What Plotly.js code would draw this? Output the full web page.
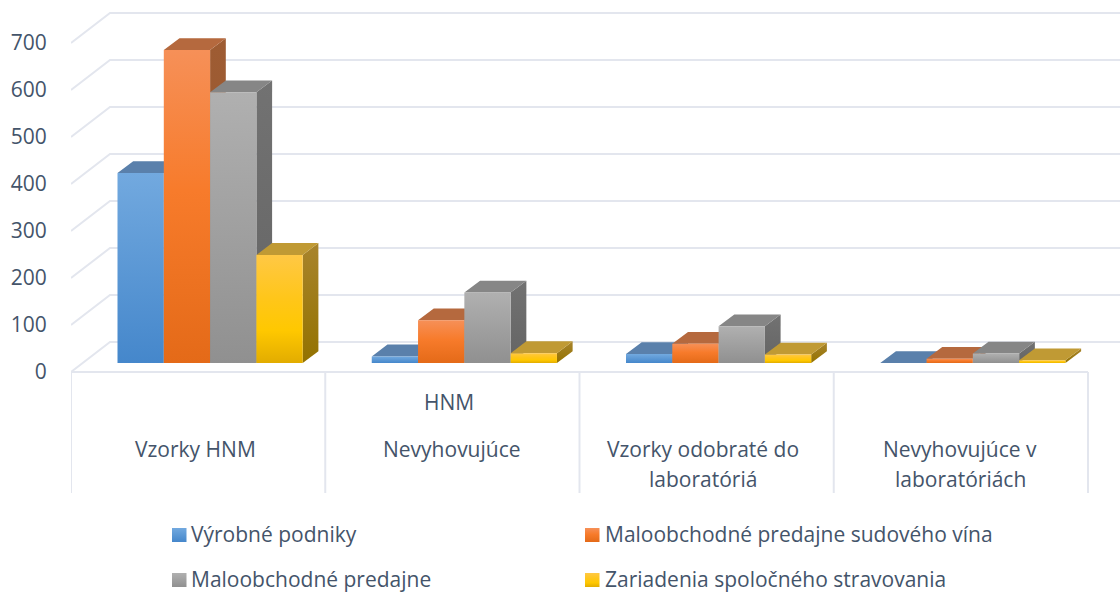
<!DOCTYPE html>
<html>
<head>
<meta charset="utf-8">
<script src="https://cdn.plot.ly/plotly-3.0.1.min.js"></script>
<style>html,body{margin:0;padding:0;background:#fff}#c{width:1120px;height:592px}</style>
</head>
<body>
<div id="c"></div>
<script>
var categories = ["Vzorky HNM", "Nevyhovujúce", "Vzorky odobraté do<br>laboratóriá", "Nevyhovujúce v<br>laboratóriách"];
var categoryPrefix = ["", "HNM", "", ""];
var seriesNames = ["Výrobné podniky", "Maloobchodné predajne sudového vína", "Maloobchodné predajne", "Zariadenia spoločného stravovania"];
var vyrobnePodniky = [404, 14, 19, 0];
var sudoveVino = [666, 91, 41, 9];
var predajne = [576, 150, 78, 20];
var stravovanie = [230, 21, 18, 6];
var tickValues = [0, 100, 200, 300, 400, 500, 600, 700];

var W = 1120, H = 592;
var X0 = 71, CAT = 254.25, Y0 = 372, PY = 0.47;
function xd(px) { return (px - X0) / CAT; }
function yd(px) { return (Y0 - px) / PY; }
var FONT = { family: '"Open Sans", sans-serif', size: 21, color: '#44546A' };
var GRID = '#E3E6EE';

var allSeries = [vyrobnePodniky, sudoveVino, predajne, stravovanie];
var frontScales = [
  [[0, '#4587CB'], [1, '#72A9DF']],
  [[0, '#E46A18'], [0.55, '#F77B2B'], [1, '#F69058']],
  [[0, '#909090'], [1, '#B0B0B0']],
  [[0, '#E2AC00'], [0.3, '#FFC800'], [0.6, '#FFC61A'], [1, '#FFC845']]
];
var topColors = ['#5A80AB', '#B5693E', '#868686', '#C09A34'];
var sideScales = [
  [[0, '#3C6595'], [1, '#44709F']],
  [[0, '#965630'], [1, '#9E5C33']],
  [[0, '#646464'], [1, '#727272']],
  [[0, '#937200'], [1, '#A8842C']]
];

var traces = [];

// wall grid and floor
var gx = [], gy = [];
var wallDx = xd(110), wallDv = 30 / PY, xEnd = xd(W);
tickValues.forEach(function (v) {
  gx.push(0, wallDx, xEnd, null);
  gy.push(v, v + wallDv, v + wallDv, null);
});
traces.push({ type: 'scatter', mode: 'lines', x: gx, y: gy, line: { color: GRID, width: 2 }, hoverinfo: 'skip', showlegend: false });

// category frame
var fx = [0, categories.length, null], fy = [0, 0, null];
for (var c = 0; c <= categories.length; c++) { fx.push(c, c, null); fy.push(0, yd(493), null); }
traces.push({ type: 'scatter', mode: 'lines', x: fx, y: fy, line: { color: GRID, width: 2 }, hoverinfo: 'skip', showlegend: false });

// bars
var BAR = 46.3 / CAT, START = 46.5 / CAT, BASE = yd(363), DX = 15.7 / CAT, DV = 11.8 / PY;
allSeries.forEach(function (vals, s) {
  var tx = [], ty = [];
  vals.forEach(function (v, g) {
    var l = g + START + s * BAR, r = l + BAR, t = BASE + v;
    tx.push(l, r, r + DX, l + DX, l, null);
    ty.push(t, t, t + DV, t + DV, t, null);
    traces.push({
      type: 'scatter', mode: 'lines', x: [r, r + DX, r + DX, r, r], y: [BASE, BASE + DV, t + DV, t, BASE],
      fill: 'toself', fillgradient: { type: 'vertical', colorscale: sideScales[s] }, line: { width: 0 }, hoverinfo: 'skip', showlegend: false
    });
  });
  traces.push({ type: 'scatter', mode: 'lines', x: tx, y: ty, fill: 'toself', fillcolor: topColors[s], line: { width: 0 }, hoverinfo: 'skip', showlegend: false });
  vals.forEach(function (v, g) {
    if (v <= 0) return;
    var l = g + START + s * BAR, r = l + BAR, t = BASE + v;
    traces.push({
      type: 'scatter', mode: 'lines', name: seriesNames[s],
      x: [l, r, r, l, l], y: [BASE, BASE, t, t, BASE],
      fill: 'toself', fillgradient: { type: 'vertical', colorscale: frontScales[s] },
      line: { width: 0 }, hovertemplate: v + '<extra>' + seriesNames[s] + '</extra>', showlegend: false
    });
  });
});

// legend swatches and labels
var legendX = [172, 585, 172, 585], legendTextX = [189, 603, 189, 603], legendY = [535, 535, 580, 580];
var annotations = [];
seriesNames.forEach(function (n, s) {
  var a = xd(legendX[s]), b = xd(legendX[s] + 14.5), t = yd(legendY[s] - 7), u = yd(legendY[s] + 7);
  traces.push({
    type: 'scatter', mode: 'lines', x: [a, b, b, a, a], y: [u, u, t, t, u], fill: 'toself',
    fillgradient: { type: 'vertical', colorscale: frontScales[s] }, line: { width: 0 }, hoverinfo: 'skip', showlegend: false
  });
  annotations.push({ xref: 'x', yref: 'y', x: xd(legendTextX[s]), y: yd(legendY[s] - 1), xanchor: 'left', yanchor: 'middle', text: n, showarrow: false, font: FONT });
});

// category labels
var labelCenter = [195, 452, 703, 960];
categories.forEach(function (n, i) {
  n.split('<br>').forEach(function (line, k) {
    annotations.push({ xref: 'x', yref: 'y', x: xd(labelCenter[i]), y: yd(449 + 30 * k), xanchor: 'center', yanchor: 'middle', text: line, showarrow: false, font: FONT });
  });
  if (categoryPrefix[i]) annotations.push({ xref: 'x', yref: 'y', x: xd(449), y: yd(402), xanchor: 'center', yanchor: 'middle', text: categoryPrefix[i], showarrow: false, font: FONT });
});

var layout = {
  width: W, height: H, margin: { l: X0, r: 0, t: 0, b: 0 },
  paper_bgcolor: '#fff', plot_bgcolor: '#fff', showlegend: false, font: FONT,
  xaxis: { range: [0, xd(W)], visible: false, fixedrange: true },
  yaxis: {
    range: [yd(H), yd(0)], tickmode: 'array', tickvals: tickValues, ticktext: tickValues.map(String),
    showgrid: false, zeroline: false, showline: false, ticks: 'outside', ticklen: 19, tickcolor: 'rgba(0,0,0,0)',
    tickfont: FONT, fixedrange: true
  },
  annotations: annotations
};
Plotly.newPlot('c', traces, layout, { displayModeBar: false, staticPlot: true });
</script>
</body>
</html>
